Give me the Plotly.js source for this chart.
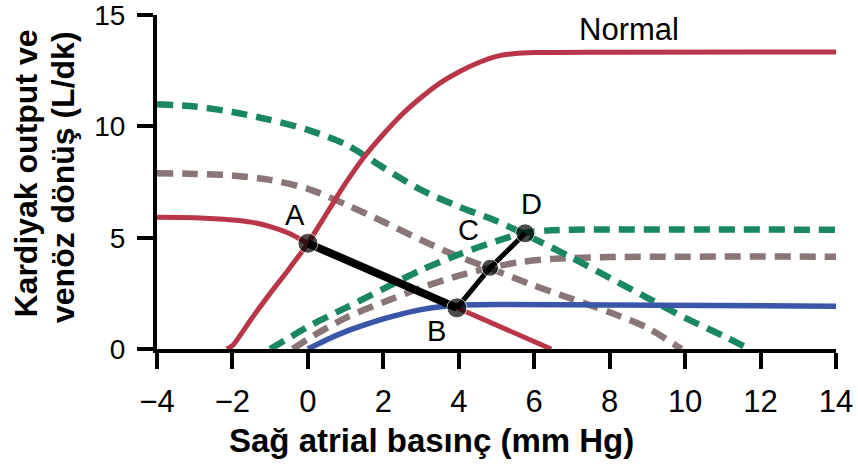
<!DOCTYPE html>
<html>
<head>
<meta charset="utf-8">
<script src="https://cdn.plot.ly/plotly-3.0.1.min.js"></script>
<style>html,body{margin:0;padding:0;background:#fff;}#chart{width:858px;height:468px;}</style>
</head>
<body>
<div id="chart"></div>
<script>
// Normal cardiac output (red, solid)
const coNormalX = [-2.15, -2.0, -1.8, -1.5, -1.0, -0.5, 0.0, 0.5, 1.0, 1.5, 2.0, 2.5, 3.0, 3.5, 4.0, 4.5, 5.0, 5.5, 6.0, 8.0, 14.0];
const coNormalY = [0.0, 0.15, 0.6, 1.35, 2.5, 3.6, 4.75, 6.1, 7.45, 8.65, 9.65, 10.55, 11.3, 11.95, 12.45, 12.85, 13.15, 13.28, 13.32, 13.34, 13.35];
// Normal venous return (red, solid)
const vrNormalX = [-4.0, -3.0, -2.0, -1.5, -1.0, -0.5, 0.0, 3.95, 6.45];
const vrNormalY = [5.92, 5.9, 5.8, 5.7, 5.5, 5.2, 4.75, 1.85, 0.0];
// Failing heart cardiac output (blue, solid)
const coFailX = [0.0, 0.5, 1.0, 1.5, 2.0, 2.5, 3.0, 3.5, 4.0, 5.0, 8.0, 14.0];
const coFailY = [0.0, 0.42, 0.78, 1.08, 1.35, 1.58, 1.77, 1.9, 1.97, 2.0, 1.98, 1.92];
// Compensated cardiac output (green, dashed)
const coGreenX = [-1.0, -0.5, 0.0, 1.0, 2.0, 3.0, 4.0, 5.0, 5.76, 6.3, 7.0, 14.0];
const coGreenY = [0.0, 0.5, 1.0, 1.85, 2.7, 3.55, 4.25, 4.85, 5.22, 5.32, 5.36, 5.36];
// Raised venous return (green, dashed)
const vrGreenX = [-4.0, -3.0, -2.0, -1.0, 0.0, 1.0, 2.0, 3.0, 4.0, 5.0, 6.0, 7.0, 8.0, 9.0, 10.0, 11.0, 11.7];
const vrGreenY = [11.0, 10.9, 10.65, 10.3, 9.85, 9.2, 8.15, 7.15, 6.4, 5.75, 4.95, 4.1, 3.2, 2.3, 1.4, 0.6, 0.0];
// Intermediate cardiac output (brown, dashed)
const coBrownX = [-0.4, 0.0, 1.0, 2.0, 3.0, 4.0, 4.83, 5.6, 6.5, 8.0, 14.0];
const coBrownY = [0.0, 0.45, 1.4, 2.1, 2.75, 3.3, 3.65, 3.9, 4.05, 4.13, 4.15];
// Intermediate venous return (brown, dashed)
const vrBrownX = [-4.0, -3.0, -2.0, -1.0, 0.0, 1.0, 2.0, 3.0, 4.0, 4.83, 6.0, 7.0, 8.0, 9.0, 9.9];
const vrBrownY = [7.9, 7.87, 7.8, 7.6, 7.2, 6.5, 5.72, 4.9, 4.15, 3.62, 2.85, 2.25, 1.65, 0.95, 0.0];
// Path of states A-B-C-D
const pathLabels = ['A', 'B', 'C', 'D'];
const pathX = [0.0, 3.95, 4.83, 5.76];
const pathY = [4.75, 1.85, 3.65, 5.2];
// Tick values
const xTicks = [-4, -2, 0, 2, 4, 6, 8, 10, 12, 14];
const yTicks = [0, 5, 10, 15];

const RED = '#b83648', BLUE = '#3a56a8', GREEN = '#1a8764', BROWN = '#8a7577';
const dashPat = '16px,9px';

function curve(x, y, color, dashed, w) {
  return {x: x, y: y, type: 'scatter', mode: 'lines',
    line: {color: color, width: w, dash: dashed ? dashPat : 'solid', shape: 'spline', smoothing: 0.8},
    hoverinfo: 'skip', showlegend: false};
}

const traces = [
  curve(vrBrownX, vrBrownY, BROWN, true, 6.5),
  curve(coBrownX, coBrownY, BROWN, true, 6.5),
  curve(vrGreenX, vrGreenY, GREEN, true, 6.5),
  curve(coGreenX, coGreenY, GREEN, true, 6.5),
  curve(vrNormalX, vrNormalY, RED, false, 5),
  curve(coNormalX, coNormalY, RED, false, 5),
  curve(coFailX, coFailY, BLUE, false, 5.5),
  {x: pathX.slice(0, 2), y: pathY.slice(0, 2), type: 'scatter', mode: 'lines',
   line: {color: '#000', width: 8}, hoverinfo: 'skip', showlegend: false},
  {x: pathX.slice(1), y: pathY.slice(1), type: 'scatter', mode: 'lines',
   line: {color: '#000', width: 5}, hoverinfo: 'skip', showlegend: false},
  {x: pathX, y: pathY, type: 'scatter', mode: 'markers',
   marker: {color: '#000', size: [20, 20, 17, 19]}, hoverinfo: 'skip', showlegend: false, cliponaxis: false}
];

const labelPos = {A: [-0.34, 6.02], B: [3.41, 0.81], C: [4.27, 5.37], D: [5.93, 6.51]};
const annotations = pathLabels.map(l => ({
  x: labelPos[l][0], y: labelPos[l][1], xref: 'x', yref: 'y', text: l, showarrow: false,
  font: {family: 'Liberation Sans, Arial, sans-serif', size: 29, color: '#000'},
  xanchor: 'center', yanchor: 'middle'
}));
annotations.push({x: 8.5, y: 14.36, xref: 'x', yref: 'y', text: 'Normal', showarrow: false,
  font: {family: 'Liberation Sans, Arial, sans-serif', size: 31, color: '#000'}, xanchor: 'center', yanchor: 'middle'});
annotations.push({x: 0.404, y: -0.2725, xref: 'paper', yref: 'paper', text: '<b>Sağ atrial basınç (mm Hg)</b>', showarrow: false,
  font: {family: 'Liberation Sans, Arial, sans-serif', size: 33, color: '#000'}, xanchor: 'center', yanchor: 'middle'});
annotations.push({x: 0, xshift: -131, y: 0.5254, xref: 'paper', yref: 'paper', text: '<b>Kardiyak output ve</b>', showarrow: false,
  textangle: -90, font: {family: 'Liberation Sans, Arial, sans-serif', size: 32, color: '#000'}, xanchor: 'center', yanchor: 'middle'});
annotations.push({x: 0, xshift: -94, y: 0.515, xref: 'paper', yref: 'paper', text: '<b>venöz dönüş (L/dk)</b>', showarrow: false,
  textangle: -90, font: {family: 'Liberation Sans, Arial, sans-serif', size: 32, color: '#000'}, xanchor: 'center', yanchor: 'middle'});

const layout = {
  width: 858, height: 468,
  margin: {l: 157, r: 22, t: 15, b: 119},
  paper_bgcolor: '#fff', plot_bgcolor: '#fff',
  showlegend: false,
  xaxis: {range: [-4, 14], tickvals: xTicks, ticktext: xTicks.map(v => v < 0 ? '\u2212' + Math.abs(v) : String(v)),
    showgrid: false, zeroline: false, showline: true, linecolor: '#000', linewidth: 4,
    ticks: 'outside', ticklen: 16, tickwidth: 4, tickcolor: '#000', ticklabelstandoff: 6,
    tickfont: {family: 'Liberation Sans, Arial, sans-serif', size: 31, color: '#000'}, fixedrange: true},
  yaxis: {range: [0, 15.01], tickvals: yTicks, ticktext: yTicks.map(String),
    showgrid: false, zeroline: false, showline: true, linecolor: '#000', linewidth: 4,
    ticks: 'outside', ticklen: 16, tickwidth: 4, tickcolor: '#000', ticklabelstandoff: 6,
    tickfont: {family: 'Liberation Sans, Arial, sans-serif', size: 28, color: '#000'}, fixedrange: true},
  annotations: annotations
};

Plotly.newPlot('chart', traces, layout, {staticPlot: true, displayModeBar: false});
</script>
</body>
</html>
